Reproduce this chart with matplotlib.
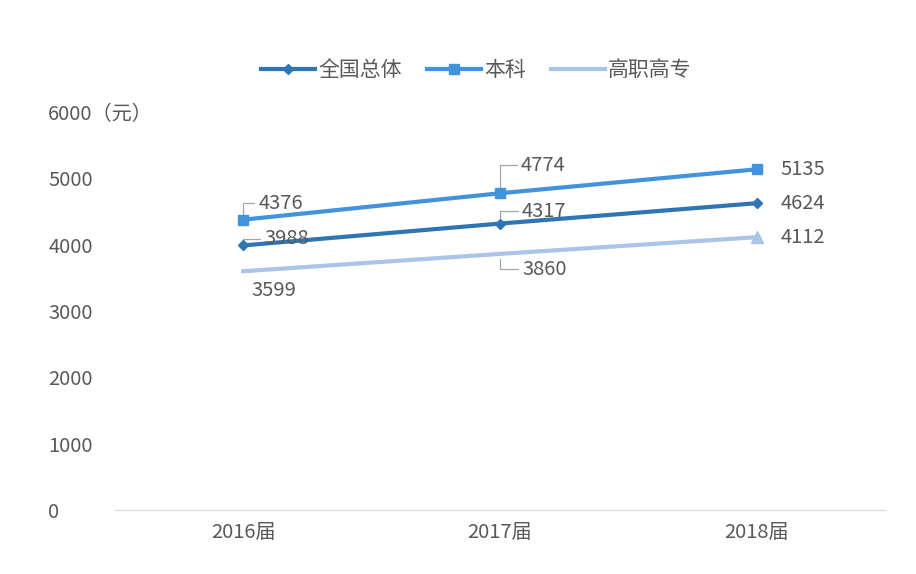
import numpy as np
import matplotlib
matplotlib.use("Agg")
import matplotlib.pyplot as plt
from matplotlib.lines import Line2D

plt.rcParams['font.family'] = ['Noto Sans CJK SC', 'DejaVu Sans']

years = ["2016届", "2017届", "2018届"]
overall = [3988, 4317, 4624]
bachelor = [4376, 4774, 5135]
vocational = [3599, 3860, 4112]

# label offsets in points (dx, dy), and whether a leader line is drawn
overall_off = [(31, 4.7, True), (32, 9, True), (33.5, 0, False)]
bachelor_off = [(27, 12, True), (31, 20, True), (33.5, 0, False)]
vocational_off = [(22, -14, False), (32, -11, True), (33.5, 0, False)]

txt_color = "#595959"
fs = 14.5

fig = plt.figure(figsize=(9.16, 5.74), dpi=100)
ax = fig.add_axes([0.1255, 0.1115, 0.8405, 0.6935])

x = np.arange(len(years))

l1, = ax.plot(x, overall, color="#2e75b6", linewidth=3, marker="D", markersize=5, label="全国总体", zorder=3)
l2, = ax.plot(x, bachelor, color="#4193dc", linewidth=3, marker="s", markersize=7, label="本科", zorder=3)
l3, = ax.plot(x, vocational, color="#a9c4e8", linewidth=3, marker="^", markersize=8,
              markevery=[2], label="高职高专", zorder=2)

def add_labels(vals, offs):
    for xi, v, (dx, dy, leader) in zip(x, vals, offs):
        ax.annotate(str(v), (xi, v), xytext=(dx, dy), textcoords="offset points",
                    ha="center", va="center", fontsize=fs, color=txt_color, zorder=5)
        if leader:
            ax.annotate("", (xi, v), xytext=(dx - 19, dy), textcoords="offset points",
                        arrowprops=dict(arrowstyle="-", color="#a6a6a6", lw=0.9,
                                        shrinkA=0, shrinkB=4,
                                        connectionstyle="angle,angleA=0,angleB=90,rad=0"),
                        zorder=1)

add_labels(overall, overall_off)
add_labels(bachelor, bachelor_off)
add_labels(vocational, vocational_off)

ax.set_xlim(-0.5, 2.5)
ax.set_ylim(0, 6000)
ax.set_xticks(x)
ax.set_xticklabels(years, fontsize=fs, color=txt_color)
yt = [0, 1000, 2000, 3000, 4000, 5000, 6000]
ax.set_yticks(yt)
ax.set_yticklabels([str(v) for v in yt[:-1]] + ["6000（元）"], fontsize=fs, color=txt_color, ha="left")
ax.tick_params(axis="y", length=0, pad=48)
ax.tick_params(axis="x", length=0, pad=9)

for s in ["top", "right", "left"]:
    ax.spines[s].set_visible(False)
ax.spines["bottom"].set_color("#d9d9d9")

h3 = Line2D([], [], color="#a9c4e8", linewidth=3)
fig.legend(handles=[l1, l2, h3], labels=["全国总体", "本科", "高职高专"], loc="center",
           bbox_to_anchor=(0.52, 0.878), ncol=3, frameon=False, fontsize=15,
           handlelength=2.6, columnspacing=1.2, handletextpad=0.15, labelcolor=txt_color)

fig.savefig("out.png", dpi=100)
